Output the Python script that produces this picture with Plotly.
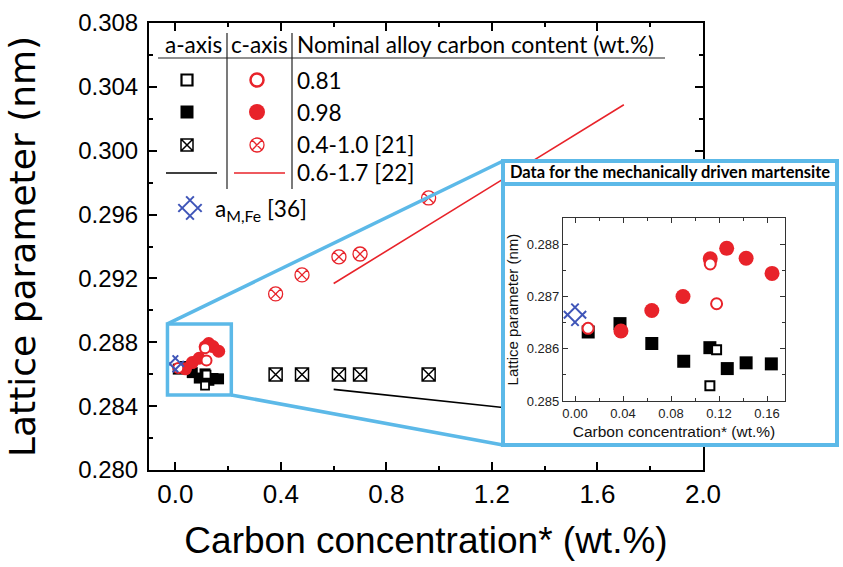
import plotly.graph_objects as go

# ---------------- data ----------------
# main plot, literature data
a21_x = [0.38, 0.48, 0.62, 0.70, 0.96]
a21_y = [0.28598, 0.28598, 0.28598, 0.28598, 0.28598]
c21_x = [0.38, 0.48, 0.62, 0.70, 0.96]
c21_y = [0.29103, 0.29222, 0.29335, 0.29353, 0.29704]
l22_x = [0.6, 1.7]
a22_y = [0.28505, 0.28310]
c22_y = [0.29168, 0.30288]

# mechanically driven martensite (0.98 = filled, 0.81 = open)
a098_x = [0.011, 0.0375, 0.064, 0.0906, 0.1124, 0.1269, 0.1426, 0.1636]
a098_y = [0.28632, 0.28648, 0.28610, 0.28576, 0.28602, 0.28562, 0.28573, 0.28571]
a081_x = [0.118, 0.1124]
a081_y = [0.28598, 0.28529]
c098_x = [0.0383, 0.064, 0.090, 0.1127, 0.1264, 0.1426, 0.1642]
c098_y = [0.28634, 0.28673, 0.28700, 0.28772, 0.28792, 0.28773, 0.28744]
c081_x = [0.0109, 0.1127, 0.118]
c081_y = [0.28639, 0.28762, 0.28686]
fe_x = [0.0]
fe_y = [0.28665]

# tick labels
main_xticks = [0.0, 0.4, 0.8, 1.2, 1.6, 2.0]
main_yticks = [0.280, 0.284, 0.288, 0.292, 0.296, 0.300, 0.304, 0.308]
ins_xticks = [0.00, 0.04, 0.08, 0.12, 0.16]
ins_yticks = [0.285, 0.286, 0.287, 0.288]

legend_rows = ["0.81", "0.98", "0.4-1.0 [21]", "0.6-1.7 [22]"]

# ---------------- layout constants ----------------
W, H = 843, 567
FONT = "Liberation Sans, Arial, sans-serif"
TFONT = "Lato, Carlito, Calibri, sans-serif"
RED = "#e8232a"
BLUE = "#3f55b8"
LBLUE = "#5cb9e8"

ML, MR, MT, MB = 149, 703, 23, 470          # main plot area (px)
XR = [-0.1, 2.0]
YR = [0.280, 0.308]
BOX = (503, 837, 161, 445)                  # inset frame (px)
HDR_Y = 184
INS = (563, 785, 218, 401)                  # inset axes (px)
ZOOM_X = (-0.03, 0.212)                     # highlighted region, data units
ZOOM_Y = (0.2847, 0.28915)


def fx(px):
    return px / W


def fy(py):
    return 1 - py / H


def dx(px):
    return XR[0] + (px - ML) / (MR - ML) * (XR[1] - XR[0])


def dy(py):
    return YR[0] + (MB - py) / (MB - MT) * (YR[1] - YR[0])


def d2px_x(x):
    return ML + (x - XR[0]) / (XR[1] - XR[0]) * (MR - ML)


def d2px_y(y):
    return MB - (y - YR[0]) / (YR[1] - YR[0]) * (MB - MT)


fig = go.Figure()

def sym_open_sq(size, lw=2):
    return dict(symbol="square", size=size, color="white", line=dict(color="black", width=lw))

def sym_open_ci(size, lw=2):
    return dict(symbol="circle", size=size, color="white", line=dict(color=RED, width=lw))

def sym_fe(size):
    return dict(symbol="hash-open", angle=45, size=size, color=BLUE, line=dict(color=BLUE, width=2))

# ---------------- main plot traces ----------------
fig.add_trace(go.Scatter(x=l22_x, y=c22_y, mode="lines", line=dict(color=RED, width=1.6), xaxis="x", yaxis="y"))
fig.add_trace(go.Scatter(x=l22_x, y=a22_y, mode="lines", line=dict(color="black", width=1.6), xaxis="x", yaxis="y"))
fig.add_trace(go.Scatter(x=a21_x, y=a21_y, mode="markers",
                         marker=dict(symbol="square-x-open", size=13, color="black", line=dict(color="black", width=1.5))))
fig.add_trace(go.Scatter(x=c21_x, y=c21_y, mode="markers",
                         marker=dict(symbol="circle-x-open", size=14, color=RED, line=dict(color=RED, width=1.3))))
fig.add_trace(go.Scatter(x=a098_x, y=a098_y, mode="markers", marker=dict(symbol="square", size=11, color="black")))
fig.add_trace(go.Scatter(x=a081_x, y=a081_y, mode="markers", marker=sym_open_sq(8, 1.8)))
fig.add_trace(go.Scatter(x=c098_x, y=c098_y, mode="markers", marker=dict(symbol="circle", size=13, color=RED)))
fig.add_trace(go.Scatter(x=c081_x, y=c081_y, mode="markers", marker=sym_open_ci(10, 2)))
fig.add_trace(go.Scatter(x=fe_x, y=fe_y, mode="markers", marker=sym_fe(16)))

# ---------------- legend table symbols (placed in main axes) ----------------
ROW_Y = [80, 112, 145, 173, 208]
COL_A, COL_C, COL_T = 187, 257, 297
fig.add_trace(go.Scatter(x=[dx(COL_A)], y=[dy(ROW_Y[0])], mode="markers", marker=sym_open_sq(11, 2.2)))
fig.add_trace(go.Scatter(x=[dx(COL_C)], y=[dy(ROW_Y[0])], mode="markers", marker=sym_open_ci(13, 2.5)))
fig.add_trace(go.Scatter(x=[dx(COL_A)], y=[dy(ROW_Y[1])], mode="markers", marker=dict(symbol="square", size=13, color="black")))
fig.add_trace(go.Scatter(x=[dx(COL_C)], y=[dy(ROW_Y[1])], mode="markers", marker=dict(symbol="circle", size=16, color=RED)))
fig.add_trace(go.Scatter(x=[dx(COL_A)], y=[dy(ROW_Y[2])], mode="markers",
                         marker=dict(symbol="square-x-open", size=12, color="black", line=dict(color="black", width=1.5))))
fig.add_trace(go.Scatter(x=[dx(COL_C)], y=[dy(ROW_Y[2])], mode="markers",
                         marker=dict(symbol="circle-x-open", size=14, color=RED, line=dict(color=RED, width=1.3))))
fig.add_trace(go.Scatter(x=[dx(190)], y=[dy(ROW_Y[4])], mode="markers", marker=sym_fe(22)))

# ---------------- inset frame subplot (white background) ----------------
fig.add_trace(go.Scatter(x=[0.5], y=[0.5], xaxis="x2", yaxis="y2", mode="markers",
                         marker=dict(size=1, color="rgba(0,0,0,0)")))

# ---------------- inset traces ----------------
fig.add_trace(go.Scatter(x=a098_x, y=a098_y, mode="markers", xaxis="x3", yaxis="y3",
                         marker=dict(symbol="square", size=13, color="black")))
fig.add_trace(go.Scatter(x=a081_x, y=a081_y, mode="markers", xaxis="x3", yaxis="y3", marker=sym_open_sq(9, 2)))
fig.add_trace(go.Scatter(x=c098_x, y=c098_y, mode="markers", xaxis="x3", yaxis="y3",
                         marker=dict(symbol="circle", size=15, color=RED)))
fig.add_trace(go.Scatter(x=c081_x, y=c081_y, mode="markers", xaxis="x3", yaxis="y3", marker=sym_open_ci(11, 2)))
fig.add_trace(go.Scatter(x=fe_x, y=fe_y, mode="markers", xaxis="x3", yaxis="y3", marker=sym_fe(21)))

fig.update_traces(showlegend=False, hoverinfo="skip")

# ---------------- shapes ----------------
shapes = []
# table lines
shapes.append(dict(type="line", xref="paper", yref="paper", x0=fx(158), x1=fx(665), y0=fy(58), y1=fy(58),
                   line=dict(color="#222", width=1.2)))
for xv in (227, 292):
    shapes.append(dict(type="line", xref="paper", yref="paper", x0=fx(xv), x1=fx(xv), y0=fy(33), y1=fy(189),
                       line=dict(color="#222", width=1.2)))
# legend lines for [22]
shapes.append(dict(type="line", xref="paper", yref="paper", x0=fx(166), x1=fx(217), y0=fy(ROW_Y[3]), y1=fy(ROW_Y[3]),
                   line=dict(color="black", width=1.6)))
shapes.append(dict(type="line", xref="paper", yref="paper", x0=fx(234), x1=fx(285), y0=fy(ROW_Y[3]), y1=fy(ROW_Y[3]),
                   line=dict(color=RED, width=1.6)))
# highlighted region in main plot
zx0, zx1 = d2px_x(ZOOM_X[0]), d2px_x(ZOOM_X[1])
zy0, zy1 = d2px_y(ZOOM_Y[1]), d2px_y(ZOOM_Y[0])
shapes.append(dict(type="rect", xref="x", yref="y", x0=ZOOM_X[0], x1=ZOOM_X[1], y0=ZOOM_Y[0], y1=ZOOM_Y[1],
                   line=dict(color=LBLUE, width=3.5), layer="above"))
# connectors
shapes.append(dict(type="line", xref="paper", yref="paper", x0=fx(zx0), y0=fy(zy0), x1=fx(BOX[0]), y1=fy(BOX[2]),
                   line=dict(color=LBLUE, width=3.5), layer="above"))
shapes.append(dict(type="line", xref="paper", yref="paper", x0=fx(zx1), y0=fy(zy1), x1=fx(BOX[0]), y1=fy(BOX[3]),
                   line=dict(color=LBLUE, width=3.5), layer="above"))
# inset frame + header line
shapes.append(dict(type="rect", xref="paper", yref="paper", x0=fx(BOX[0]), x1=fx(BOX[1]), y0=fy(BOX[3]), y1=fy(BOX[2]),
                   line=dict(color=LBLUE, width=4), layer="above"))
shapes.append(dict(type="line", xref="paper", yref="paper", x0=fx(BOX[0]), x1=fx(BOX[1]), y0=fy(HDR_Y), y1=fy(HDR_Y),
                   line=dict(color=LBLUE, width=4), layer="above"))

# ---------------- annotations ----------------
ann = []
tf = dict(family=TFONT, size=22.6, color="black")
ann.append(dict(text="a-axis", x=fx(193), y=fy(45), xref="paper", yref="paper", showarrow=False, font=tf,
                xanchor="center", yanchor="middle"))
ann.append(dict(text="c-axis", x=fx(259), y=fy(45), xref="paper", yref="paper", showarrow=False, font=tf,
                xanchor="center", yanchor="middle"))
ann.append(dict(text="Nominal alloy carbon content (wt.%)", x=fx(COL_T - 2), y=fy(45), xref="paper", yref="paper",
                showarrow=False, font=tf, xanchor="left", yanchor="middle"))
for txt, ry in zip(legend_rows, ROW_Y[:4]):
    ann.append(dict(text=txt, x=fx(COL_T - 2), y=fy(ry), xref="paper", yref="paper", showarrow=False, font=tf,
                    xanchor="left", yanchor="middle"))
ann.append(dict(text="a<sub>M,Fe</sub> [36]", x=fx(213), y=fy(ROW_Y[4] + 2), xref="paper", yref="paper",
                showarrow=False, font=tf, xanchor="left", yanchor="middle"))
ann.append(dict(text="<b>Data for the mechanically driven martensite</b>", x=fx((BOX[0] + BOX[1]) / 2),
                y=fy((BOX[2] + HDR_Y) / 2), xref="paper", yref="paper", showarrow=False,
                font=dict(family=TFONT, size=16.5, color="black"), xanchor="center", yanchor="middle"))

axis_common = dict(showgrid=False, zeroline=False, showline=True, mirror="allticks", ticks="inside",
                   automargin=False)

fig.update_layout(
    width=W, height=H,
    margin=dict(l=0, r=0, t=0, b=0),
    paper_bgcolor="white", plot_bgcolor="white",
    template="none",
    shapes=shapes, annotations=ann,
    xaxis=dict(**axis_common, domain=[fx(ML), fx(MR)], range=XR, anchor="y",
               tickvals=main_xticks, tickformat=".1f", ticklen=8, tickwidth=1.6,
               minor=dict(dtick=0.2, tick0=0, ticks="inside", ticklen=4, tickwidth=1.6, tickcolor="black"),
               linewidth=2, linecolor="black", tickcolor="black",
               tickfont=dict(family=FONT, size=26, color="black"),
               title=dict(text="Carbon concentration* (wt.%)", font=dict(family=FONT, size=37, color="black"),
                          standoff=19)),
    yaxis=dict(**axis_common, domain=[fy(MB), fy(MT)], range=YR, anchor="x",
               tickvals=main_yticks, tickformat=".3f", ticklen=8, tickwidth=1.6,
               minor=dict(dtick=0.002, tick0=0.280, ticks="inside", ticklen=4, tickwidth=1.6, tickcolor="black"),
               linewidth=2, linecolor="black", tickcolor="black",
               tickfont=dict(family=FONT, size=24, color="black"), ticklabelstandoff=4,
               title=dict(text="Lattice parameter (nm)", font=dict(family="DejaVu Sans, sans-serif", size=36, color="black"),
                          standoff=32)),
    xaxis2=dict(domain=[fx(BOX[0]), fx(BOX[1])], range=[0, 1], anchor="y2", visible=False, fixedrange=True),
    yaxis2=dict(domain=[fy(BOX[3]), fy(BOX[2])], range=[0, 1], anchor="x2", visible=False, fixedrange=True),
    xaxis3=dict(**axis_common, domain=[fx(INS[0]), fx(INS[1])], range=[-0.01, 0.175], anchor="y3",
                tickvals=ins_xticks, tickformat=".2f", ticklen=5, tickwidth=1,
                minor=dict(dtick=0.02, tick0=0, ticks="inside", ticklen=3, tickwidth=1, tickcolor="#333"),
                linewidth=1.2, linecolor="#333", tickcolor="#333",
                tickfont=dict(family=FONT, size=13, color="#222"),
                title=dict(text="Carbon concentration* (wt.%)", font=dict(family=FONT, size=15.5, color="#111"),
                           standoff=6)),
    yaxis3=dict(**axis_common, domain=[fy(INS[3]), fy(INS[2])], range=[0.285, 0.2885], anchor="x3",
                tickvals=ins_yticks, tickformat=".3f", ticklen=5, tickwidth=1,
                minor=dict(dtick=0.0005, tick0=0.285, ticks="inside", ticklen=3, tickwidth=1, tickcolor="#333"),
                linewidth=1.2, linecolor="#333", tickcolor="#333",
                tickfont=dict(family=FONT, size=13, color="#222"),
                title=dict(text="Lattice parameter (nm)", font=dict(family=FONT, size=15, color="#111"),
                           standoff=4)),
)

fig.write_html("out.html", config={"displayModeBar": False},
               post_script="document.body.style.margin='0';")
